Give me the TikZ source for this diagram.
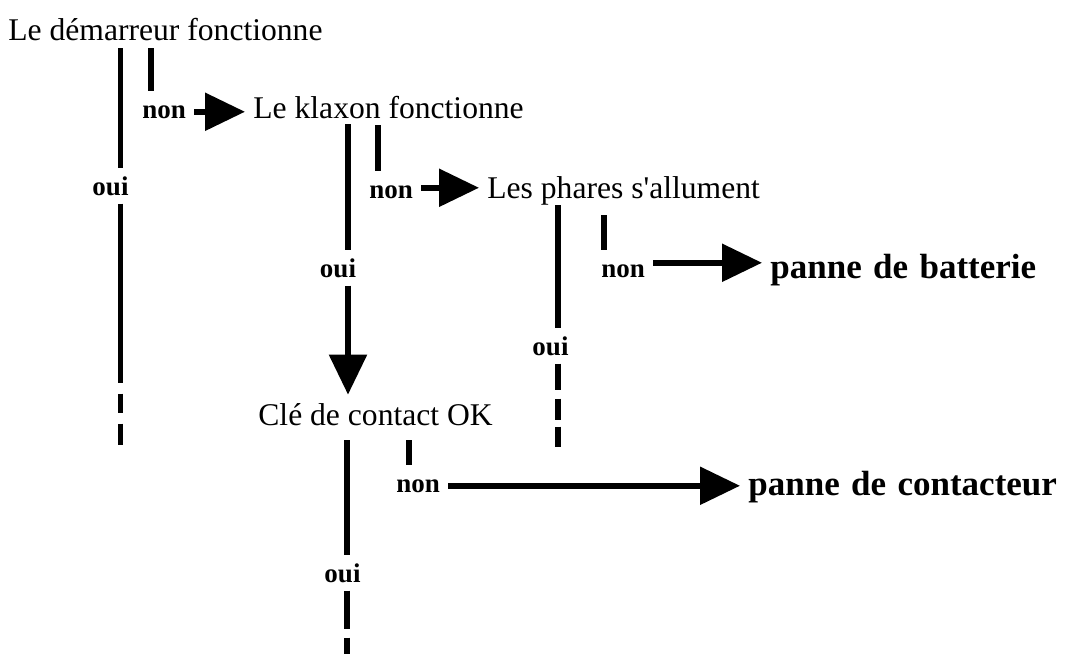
\documentclass[tikz,border=0pt]{standalone}
\usepackage{fontspec}
\setmainfont{Liberation Serif}
\newfontfamily\resultfont[WordSpace=1.3]{Liberation Serif}
\usetikzlibrary{arrows.meta}

\begin{document}
\begin{tikzpicture}[x=0.5pt, y=-0.5pt, >={Triangle[length=20pt, width=18.5pt]}, every node/.style={inner sep=4pt}]
  \tikzset{question/.style={anchor=base west, font=\fontsize{15.8}{18}\selectfont},
           answer/.style={font=\bfseries\fontsize{13.5}{15}\selectfont},
           result/.style={anchor=base west, font=\resultfont\bfseries\fontsize{17.5}{20}\selectfont},
           bar/.style={line width=2.8pt},
           flow/.style={bar, ->}}
  \useasboundingbox (0,0) rectangle (1070,654);

  % questions and results
  \node[question] (dem) at (0,40) {Le démarreur fonctionne};
  \node[question] (klax) at (245,118) {Le klaxon fonctionne};
  \node[question] (phares) at (479,198) {Les phares s\textquotesingle allument};
  \node[question] (cle) at (250,425) {Clé de contact OK};
  \node[result] (batt) at (762,278) {panne de batterie};
  \node[result] (cont) at (740,495) {panne de contacteur};

  % answers
  \node[answer, anchor=base] (demOui) at (110.5,195) {oui};
  \node[answer, anchor=base west] (demNon) at (134,118) {non};
  \node[answer, anchor=base] (klaxOui) at (338,277) {oui};
  \node[answer, anchor=base west] (klaxNon) at (361,198) {non};
  \node[answer, anchor=base] (pharesOui) at (550.5,355) {oui};
  \node[answer, anchor=base west] (pharesNon) at (593,277) {non};
  \node[answer, anchor=base] (cleOui) at (342.5,582) {oui};
  \node[answer, anchor=base west] (cleNon) at (388,492) {non};

  % tops and ends of the columns
  \coordinate (demA) at (120.5,48);
  \coordinate (demB) at (151,48);
  \coordinate (demEnd) at (120.5,445);
  \coordinate (klaxA) at (348,124);
  \coordinate (klaxB) at (378,125);
  \coordinate (pharesA) at (558,205);
  \coordinate (pharesB) at (604,215);
  \coordinate (pharesEnd) at (558,447);
  \coordinate (cleA) at (347,440);
  \coordinate (cleB) at (409,440);
  \coordinate (cleEnd) at (347,654);

  % le demarreur
  \draw[bar] (demA) -- (demA |- demOui.north);
  \draw[bar, dash pattern=on 89.5pt off 5.5pt on 9.5pt off 5.5pt on 11pt] (demA |- demOui.south) -- (demEnd);
  \draw[bar, shorten >=2.8pt] (demB) -- (demB |- demNon.north);
  \draw[flow] (demNon.east) -- (demNon.east -| klax.west);

  % le klaxon
  \draw[bar] (klaxA) -- (klaxA |- klaxOui.north);
  \draw[flow] (klaxA |- klaxOui.south) -- (klaxA |- cle.north);
  \draw[bar, shorten >=2.8pt] (klaxB) -- (klaxB |- klaxNon.north);
  \draw[flow] ([yshift=2pt]klaxNon.east) -- ([yshift=2pt]klaxNon.east -| phares.west);

  % les phares
  \draw[bar] (pharesA) -- (pharesA |- pharesOui.north);
  \draw[bar, dash pattern=on 13pt off 4.5pt on 10.5pt off 3.5pt on 11pt] (pharesA |- pharesOui.south) -- (pharesEnd);
  \draw[bar, shorten >=2.8pt] (pharesB) -- (pharesB |- pharesNon.north);
  \draw[flow] ([yshift=4pt]pharesNon.east) -- ([yshift=4pt]pharesNon.east -| batt.west);

  % la cle de contact
  \draw[bar] (cleA) -- (cleA |- cleOui.north);
  \draw[bar, dash pattern=on 19pt off 4.5pt on 10pt] (cleA |- cleOui.south) -- (cleEnd);
  \draw[bar, shorten >=2.8pt] (cleB) -- (cleB |- cleNon.north);
  \draw[flow] (cleNon.east) -- (cleNon.east -| cont.west);
\end{tikzpicture}
\end{document}
